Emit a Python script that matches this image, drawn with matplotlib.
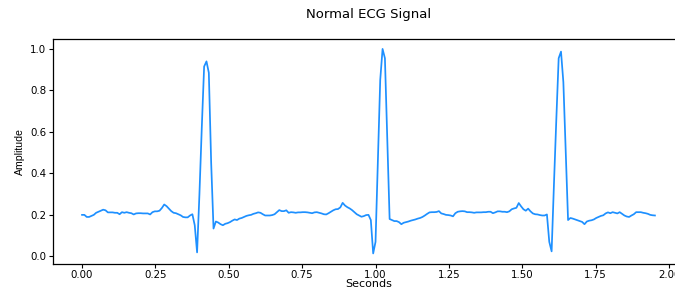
import numpy as np
import matplotlib
matplotlib.use("Agg")
import matplotlib.pyplot as plt

# one ECG record, sampled at 125 Hz
fs = 125
amplitude = [
    0.200, 0.200, 0.190, 0.190, 0.195, 0.200, 0.210, 0.215, 0.220, 0.225,
    0.222, 0.212, 0.212, 0.212, 0.210, 0.210, 0.203, 0.213, 0.210, 0.213,
    0.210, 0.208, 0.202, 0.207, 0.208, 0.208, 0.207, 0.207, 0.207, 0.202,
    0.213, 0.217, 0.217, 0.220, 0.233, 0.250, 0.242, 0.230, 0.218, 0.210,
    0.208, 0.203, 0.198, 0.190, 0.188, 0.188, 0.197, 0.203, 0.150, 0.019,
    0.300, 0.620, 0.915, 0.940, 0.885, 0.450, 0.134, 0.168, 0.163, 0.155,
    0.150, 0.157, 0.160, 0.165, 0.172, 0.178, 0.175, 0.182, 0.185, 0.190,
    0.195, 0.198, 0.200, 0.205, 0.208, 0.212, 0.210, 0.203, 0.197, 0.197,
    0.197, 0.199, 0.203, 0.213, 0.223, 0.218, 0.218, 0.222, 0.210, 0.213,
    0.212, 0.210, 0.212, 0.212, 0.213, 0.213, 0.212, 0.210, 0.208, 0.212,
    0.213, 0.210, 0.207, 0.203, 0.202, 0.208, 0.215, 0.222, 0.227, 0.228,
    0.236, 0.258, 0.245, 0.237, 0.231, 0.223, 0.213, 0.203, 0.197, 0.191,
    0.194, 0.199, 0.200, 0.175, 0.014, 0.070, 0.460, 0.850, 1.000, 0.955,
    0.570, 0.180, 0.175, 0.170, 0.170, 0.165, 0.155, 0.162, 0.165, 0.168,
    0.172, 0.175, 0.178, 0.182, 0.185, 0.190, 0.197, 0.205, 0.212, 0.213,
    0.213, 0.214, 0.218, 0.207, 0.204, 0.200, 0.199, 0.197, 0.193, 0.208,
    0.215, 0.217, 0.218, 0.217, 0.213, 0.213, 0.212, 0.210, 0.212, 0.212,
    0.212, 0.213, 0.213, 0.215, 0.215, 0.208, 0.212, 0.217, 0.217, 0.215,
    0.215, 0.213, 0.217, 0.227, 0.231, 0.234, 0.257, 0.241, 0.227, 0.220,
    0.230, 0.217, 0.207, 0.203, 0.202, 0.199, 0.197, 0.197, 0.202, 0.070,
    0.024, 0.350, 0.660, 0.955, 0.987, 0.840, 0.500, 0.175, 0.185, 0.182,
    0.178, 0.174, 0.170, 0.166, 0.155, 0.168, 0.172, 0.174, 0.178, 0.185,
    0.190, 0.195, 0.198, 0.207, 0.212, 0.208, 0.213, 0.210, 0.207, 0.213,
    0.205, 0.197, 0.192, 0.190, 0.197, 0.203, 0.213, 0.213, 0.213, 0.210,
    0.208, 0.205, 0.200, 0.198, 0.197,
]
seconds = np.arange(len(amplitude)) / fs

x_ticks = [0.00, 0.25, 0.50, 0.75, 1.00, 1.25, 1.50, 1.75, 2.00]
y_ticks = [0.0, 0.2, 0.4, 0.6, 0.8, 1.0]

fig = plt.figure(figsize=(6.75, 2.92), dpi=100)
# axes run past the right edge of the figure, as in the reference crop
ax = fig.add_axes([0.0791, 0.0970, 0.9336, 0.7705])
ax.plot(seconds, amplitude, color="#1E90FF", linewidth=1.25)

ax.set_xticks(x_ticks)
ax.set_yticks(y_ticks)
ax.set_xticklabels([f"{t:.2f}" for t in x_ticks])
ax.set_yticklabels([f"{v:.1f}" for v in y_ticks])
ax.tick_params(labelsize=7.4, length=3, pad=2.2, width=0.8)
ax.tick_params(axis="x", pad=1.2)

ax.set_title("Normal ECG Signal", fontsize=9.5, pad=15)
ax.set_xlabel("Seconds", fontsize=8, labelpad=-0.5)
ax.set_ylabel("Amplitude", fontsize=7.6, labelpad=4,
              family=["Liberation Sans", "DejaVu Sans"])

for s in ax.spines.values():
    s.set_linewidth(0.9)

fig.savefig("out.png", dpi=100)
